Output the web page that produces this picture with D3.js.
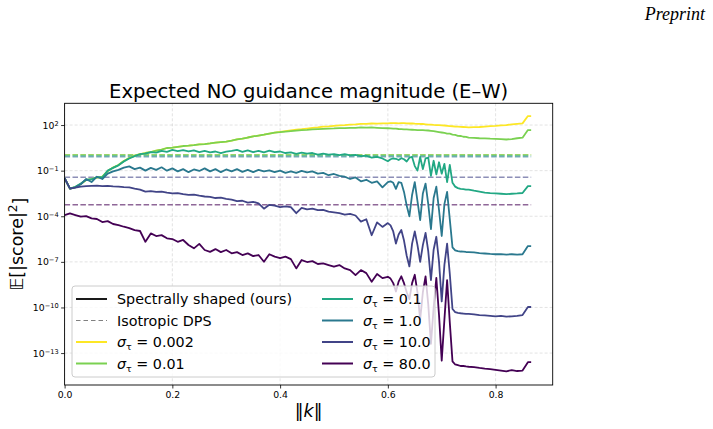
<!DOCTYPE html>
<html>
<head>
<meta charset="utf-8">
<script src="https://cdn.jsdelivr.net/npm/d3@7"></script>
<style>
  body { margin: 0; background: #fff; }
  text { font-family: "DejaVu Sans", sans-serif; fill: #000; }
</style>
</head>
<body>
<div id="viz"></div>
<script>

// ||k|| sample positions (finer in the oscillating band)
const kValues = [
  0, 0.01, 0.02, 0.03, 0.04, 0.05, 0.06, 0.07, 0.08, 0.09,
  0.10, 0.11, 0.12, 0.13, 0.14, 0.15, 0.16, 0.17, 0.18, 0.19,
  0.20, 0.21, 0.22, 0.23, 0.24, 0.25, 0.26, 0.27, 0.28, 0.29,
  0.30, 0.31, 0.32, 0.33, 0.34, 0.35, 0.36, 0.37, 0.38, 0.39,
  0.40, 0.41, 0.42, 0.43, 0.44, 0.45, 0.46, 0.47, 0.48, 0.49,
  0.50, 0.51, 0.52, 0.53, 0.54, 0.55, 0.56, 0.57, 0.58, 0.59,
  0.60,
  0.605, 0.61, 0.615, 0.62, 0.625, 0.63, 0.635, 0.64, 0.645, 0.65,
  0.655, 0.66, 0.665, 0.67, 0.675, 0.68, 0.685, 0.69, 0.695, 0.70,
  0.705, 0.71, 0.715, 0.72, 0.725, 0.73, 0.735, 0.74, 0.745, 0.75,
  0.76, 0.77, 0.78, 0.79, 0.80, 0.81, 0.82, 0.83, 0.84, 0.85, 0.86, 0.866
];

// log10 of E[|score|^2], one list per sigma_tau
const logSigma0002 = [
  -1.49, -2.18, -2.08, -1.88, -1.62, -1.55, -1.45, -1.39, -1.03, -0.80,
  -0.63, -0.37, -0.17, -0.01, 0.09, 0.16, 0.22, 0.32, 0.39, 0.49,
  0.52, 0.57, 0.62, 0.64, 0.68, 0.73, 0.75, 0.79, 0.84, 0.88,
  0.91, 0.97, 1.05, 1.10, 1.18, 1.25, 1.31, 1.37, 1.44, 1.50,
  1.55, 1.60, 1.65, 1.70, 1.73, 1.77, 1.81, 1.84, 1.89, 1.91,
  1.95, 1.98, 2.00, 2.03, 2.04, 2.07, 2.08, 2.10, 2.09, 2.11,
  2.11,
  2.12, 2.13, 2.12, 2.11, 2.13, 2.12, 2.11, 2.10, 2.11, 2.09,
  2.08, 2.07, 2.07, 2.05, 2.03, 2.03, 2.01, 2.00, 1.99, 1.98,
  1.97, 1.95, 1.93, 1.92, 1.90, 1.89, 1.88, 1.87, 1.86, 1.85,
  1.86, 1.87, 1.90, 1.93, 1.95, 1.98, 2.00, 2.05, 2.08, 2.11, 2.59, 2.59
];
const logSigma001 = [
  -1.49, -2.18, -2.08, -1.88, -1.62, -1.55, -1.45, -1.39, -1.03, -0.80,
  -0.63, -0.37, -0.17, -0.01, 0.09, 0.16, 0.22, 0.32, 0.39, 0.49,
  0.52, 0.57, 0.62, 0.64, 0.68, 0.73, 0.75, 0.79, 0.84, 0.88,
  0.91, 0.97, 1.05, 1.10, 1.18, 1.25, 1.31, 1.37, 1.44, 1.50,
  1.53, 1.57, 1.60, 1.63, 1.66, 1.68, 1.71, 1.73, 1.75, 1.77,
  1.78, 1.80, 1.80, 1.82, 1.82, 1.84, 1.83, 1.84, 1.82, 1.80,
  1.79,
  1.78, 1.77, 1.76, 1.74, 1.73, 1.72, 1.71, 1.70, 1.69, 1.68,
  1.67, 1.67, 1.66, 1.65, 1.64, 1.62, 1.60, 1.57, 1.54, 1.51,
  1.48, 1.44, 1.43, 1.37, 1.35, 1.29, 1.28, 1.23, 1.22, 1.17,
  1.15, 1.13, 1.12, 1.10, 1.09, 1.07, 1.05, 1.08, 1.13, 1.17, 1.67, 1.67
];
const logSigma01 = [
  -1.49, -2.18, -2.06, -1.85, -1.60, -1.58, -1.42, -1.45, -1.00, -0.82,
  -0.65, -0.40, -0.20, -0.05, 0.08, 0.12, 0.22, 0.18, 0.30, 0.24,
  0.36, 0.28, 0.35, 0.26, 0.33, 0.22, 0.30, 0.20, 0.26, 0.15,
  0.25, 0.30, 0.36, 0.24, 0.33, 0.22, 0.30, 0.20, 0.31, 0.22,
  0.26, 0.16, 0.20, 0.10, 0.18, 0.12, 0.16, 0.06, 0.12, 0.05,
  0.09, 0.02, 0.08, 0.00, 0.04, -0.04, -0.02, -0.14, -0.10, -0.20,
  -0.38,
  -0.25, -0.20, -0.22, -0.30, -0.18, -0.25, -0.40, -0.15, -0.10, -0.70,
  -1.00, -0.10, -0.90, -0.20, -0.15, -1.35, -0.35, -1.25, -0.45, -1.20,
  -0.55, -1.75, -0.62, -1.80, -2.05, -2.15, -2.20, -2.22, -2.25, -2.25,
  -2.32, -2.38, -2.45, -2.48, -2.50, -2.52, -2.55, -2.52, -2.50, -2.47, -2.02, -2.02
];
const logSigma1 = [
  -1.49, -2.18, -2.10, -1.90, -1.55, -1.75, -1.40, -1.55, -1.20, -1.05,
  -0.95, -0.80, -0.72, -0.90, -0.80, -1.00, -0.82, -0.95, -0.78, -1.00,
  -0.85, -1.05, -0.90, -1.10, -0.92, -1.02, -0.85, -1.05, -0.90, -1.10,
  -0.92, -1.05, -0.90, -1.08, -0.95, -1.10, -0.95, -1.05, -0.98, -1.10,
  -1.00, -1.15, -1.05, -1.15, -1.02, -1.12, -1.05, -1.20, -1.15, -1.30,
  -1.22, -1.35, -1.40, -1.55, -1.45, -1.70, -1.60, -1.80, -1.70, -2.10,
  -1.75,
  -1.70, -1.80, -2.20, -1.75, -1.80, -2.40, -3.30, -4.00, -2.60, -1.75,
  -3.00, -4.25, -2.50, -1.85, -3.20, -4.85, -2.80, -2.05, -3.60, -5.30,
  -3.20, -2.40, -4.20, -6.05, -6.25, -6.30, -6.32, -6.33, -6.35, -6.36,
  -6.38, -6.42, -6.45, -6.48, -6.50, -6.49, -6.52, -6.50, -6.53, -6.50, -5.96, -5.96
];
const logSigma10 = [
  -1.49, -2.18, -2.12, -2.05, -2.02, -2.00, -1.98, -2.02, -2.00, -2.03,
  -2.05, -2.08, -2.10, -2.18, -2.25, -2.38, -2.35, -2.40, -2.38, -2.45,
  -2.50, -2.48, -2.55, -2.60, -2.58, -2.65, -2.70, -2.72, -2.80, -2.78,
  -2.85, -2.90, -3.00, -2.98, -3.10, -3.05, -3.15, -3.50, -3.25, -3.30,
  -3.40, -3.35, -3.40, -3.80, -3.45, -3.55, -3.50, -3.60, -3.58, -3.70,
  -3.75, -3.80, -3.90, -3.85, -3.95, -4.35, -4.20, -5.25, -4.40, -4.70,
  -4.45,
  -4.60, -5.00, -5.80, -5.20, -4.90, -5.60, -6.60, -7.30, -5.80, -5.00,
  -5.90, -7.00, -5.90, -5.10, -6.30, -8.20, -6.20, -5.35, -7.00, -9.60,
  -7.20, -5.80, -7.80, -10.10, -10.30, -10.35, -10.38, -10.40, -10.42, -10.42,
  -10.45, -10.50, -10.52, -10.55, -10.58, -10.55, -10.60, -10.58, -10.55, -10.50, -9.97, -9.97
];
const logSigma80 = [
  -3.92, -3.81, -3.92, -4.03, -3.99, -4.14, -4.18, -4.38, -4.32, -4.51,
  -4.58, -4.69, -4.78, -4.91, -4.97, -5.68, -5.13, -5.30, -5.24, -5.45,
  -5.50, -5.68, -5.56, -5.89, -6.11, -5.82, -6.22, -6.34, -6.16, -6.36,
  -6.22, -6.44, -6.36, -6.55, -6.44, -6.62, -6.55, -6.99, -6.50, -6.66,
  -6.75, -6.66, -6.82, -7.43, -6.88, -7.01, -6.95, -7.14, -7.10, -7.21,
  -7.32, -7.21, -7.43, -7.54, -7.87, -7.54, -7.74, -8.31, -7.80, -8.07,
  -7.98,
  -8.10, -8.40, -8.95, -8.30, -7.95, -8.40, -9.00, -9.45, -8.40, -7.85,
  -9.00, -10.80, -9.00, -7.95, -9.80, -12.40, -10.00, -8.05, -10.50, -13.50,
  -10.80, -8.20, -11.00, -13.55, -13.75, -13.80, -13.85, -13.85, -13.88, -13.90,
  -13.92, -13.98, -14.02, -14.05, -14.10, -14.15, -14.20, -14.12, -14.18, -14.15, -13.60, -13.60
];

// isotropic DPS level per sigma (log10), flat in k
const isotropicLog = [0.05, 0.04, 0.0, -0.08, -1.44, -3.24];

const sigmaLabels = ["0.002", "0.01", "0.1", "1.0", "10.0", "80.0"];
const sigmaColors = ["#fde725", "#7ad151", "#22a884", "#2a788e", "#414487", "#440154"];
const xTicks = [0, 0.2, 0.4, 0.6, 0.8];
const yTickExponents = [-13, -10, -7, -4, -1, 2];

const seriesLogs = [logSigma0002, logSigma001, logSigma01, logSigma1, logSigma10, logSigma80];

//dimensions for the chart
let dimensions = {
  width: 713,
  height: 429,
  margins: { top: 103.3, right: 160.3, bottom: 44, left: 64.6 }
};
dimensions.boundedWidth = dimensions.width - dimensions.margins.left - dimensions.margins.right;
dimensions.boundedHeight = dimensions.height - dimensions.margins.top - dimensions.margins.bottom;

const svg = d3.select('#viz').append('svg')
  .attr('width', dimensions.width)
  .attr('height', dimensions.height);

//scales
const xScale = d3.scaleLinear()
  .domain([0, 0.906])
  .range([dimensions.margins.left, dimensions.margins.left + dimensions.boundedWidth]);

const yScale = d3.scaleLog()
  .domain([Math.pow(10, -15.1), Math.pow(10, 3.43)])
  .range([dimensions.margins.top + dimensions.boundedHeight, dimensions.margins.top]);

const yTickValues = yTickExponents.map(e => Math.pow(10, e));

// grid
const grid = svg.append('g');
grid.selectAll('.vgrid').data(xTicks).join('line')
  .attr('x1', d => xScale(d)).attr('x2', d => xScale(d))
  .attr('y1', yScale.range()[1]).attr('y2', yScale.range()[0])
  .attr('stroke', '#b0b0b0').attr('stroke-opacity', 0.45)
  .attr('stroke-width', 0.8).attr('stroke-dasharray', '3,2');
grid.selectAll('.hgrid').data(yTickValues).join('line')
  .attr('x1', xScale.range()[0]).attr('x2', xScale.range()[1])
  .attr('y1', d => yScale(d)).attr('y2', d => yScale(d))
  .attr('stroke', '#b0b0b0').attr('stroke-opacity', 0.45)
  .attr('stroke-width', 0.8).attr('stroke-dasharray', '3,2');

// clip to the axes box
svg.append('defs').append('clipPath')
  .attr('id', 'clip')
  .append('rect')
    .attr('x', xScale.range()[0])
    .attr('y', yScale.range()[1])
    .attr('width', dimensions.boundedWidth)
    .attr('height', dimensions.boundedHeight);

const plot = svg.append('g').attr('clip-path', 'url(#clip)');

// isotropic DPS reference lines (dashed, flat)
plot.selectAll('.iso').data(isotropicLog).join('line')
  .attr('x1', xScale(kValues[0]))
  .attr('x2', xScale(kValues[kValues.length - 1]))
  .attr('y1', d => yScale(Math.pow(10, d)))
  .attr('y2', d => yScale(Math.pow(10, d)))
  .attr('stroke', (d, i) => sigmaColors[i])
  .attr('stroke-opacity', 0.6)
  .attr('stroke-width', 1.5)
  .attr('stroke-dasharray', '5.5,2.4');

// spectrally shaped curves
const series = d3.line()
  .x((d, i) => xScale(kValues[i]))
  .y(d => yScale(Math.pow(10, d)));

plot.selectAll('.curve').data(seriesLogs).join('path')
  .attr('d', series)
  .attr('fill', 'none')
  .attr('stroke', (d, i) => sigmaColors[i])
  .attr('stroke-width', 1.8)
  .attr('stroke-linejoin', 'round');

// axes
const xAxis = svg.append('g')
  .attr('transform', `translate(0,${yScale.range()[0]})`)
  .call(d3.axisBottom(xScale).tickValues(xTicks).tickSize(3.5).tickPadding(3)
    .tickFormat(d3.format('.1f')));
xAxis.select('.domain').remove();
xAxis.selectAll('text').attr('font-size', '9.3px').attr('font-family', null);
xAxis.selectAll('line').attr('stroke-width', 0.8);

const yAxis = svg.append('g')
  .attr('transform', `translate(${xScale.range()[0]},0)`)
  .call(d3.axisLeft(yScale).tickValues(yTickValues).tickSize(3.5).tickFormat(() => ''));
yAxis.select('.domain').remove();
yAxis.selectAll('line').attr('stroke-width', 0.8);

// log tick labels as 10^n
yAxis.selectAll('.tick').each(function(d, i) {
  const e = yTickExponents[i];
  const t = d3.select(this).append('text')
    .attr('x', -6).attr('dy', '0.32em')
    .attr('text-anchor', 'end')
    .attr('font-size', '9.3px')
    .attr('fill', '#000');
  t.append('tspan').text('10');
  t.append('tspan').attr('dy', '-0.45em').attr('font-size', '6.6px')
    .text(e < 0 ? '\u2212' + Math.abs(e) : String(e));
});

// frame
svg.append('rect')
  .attr('x', xScale.range()[0]).attr('y', yScale.range()[1])
  .attr('width', dimensions.boundedWidth).attr('height', dimensions.boundedHeight)
  .attr('fill', 'none').attr('stroke', '#000').attr('stroke-width', 0.9);

// titles
const cx = (xScale.range()[0] + xScale.range()[1]) / 2;
svg.append('text')
  .attr('x', cx).attr('y', 98)
  .attr('text-anchor', 'middle')
  .attr('font-size', '19.6px')
  .text('Expected NO guidance magnitude (E\u2013W)');

const xLabel = svg.append('text')
  .attr('x', cx).attr('y', 417)
  .attr('text-anchor', 'middle')
  .attr('font-size', '17.5px');
xLabel.append('tspan').text('\u2016');
xLabel.append('tspan').attr('font-style', 'italic').text('k');
xLabel.append('tspan').text('\u2016');

const yLabel = svg.append('text')
  .attr('transform', `translate(23,${(yScale.range()[0] + yScale.range()[1]) / 2}) rotate(-90)`)
  .attr('text-anchor', 'middle')
  .attr('font-size', '17.5px');
yLabel.append('tspan').text('\uD835\uDD3C[|score|');
yLabel.append('tspan').attr('dy', '-0.5em').attr('font-size', '12px').text('2');
yLabel.append('tspan').attr('dy', '0.5em').text(']');

svg.append('text')
  .attr('x', 705).attr('y', 20)
  .attr('text-anchor', 'end')
  .style('font-family', '"Liberation Serif", "Times New Roman", serif')
  .style('font-style', 'italic')
  .attr('font-size', '18px')
  .text('Preprint');

// legend
const legend = svg.append('g');
legend.append('rect')
  .attr('x', 72).attr('y', 286).attr('width', 363).attr('height', 91)
  .attr('rx', 3)
  .attr('fill', '#fff').attr('fill-opacity', 0.8)
  .attr('stroke', '#cccccc').attr('stroke-width', 1);

const rowY = [299, 320.5, 342, 363.5];
const legendItems = [
  { col: 0, row: 0, color: '#000', dash: null, width: 1.8, label: 'Spectrally shaped (ours)' },
  { col: 0, row: 1, color: '#808080', dash: '4.5,3', width: 1.2, label: 'Isotropic DPS' }
];
sigmaLabels.forEach((s, i) => {
  const slot = i + 2;
  legendItems.push({ col: Math.floor(slot / 4), row: slot % 4, color: sigmaColors[i], dash: null, width: 2, sigma: s });
});
const colX = [76, 322];

legendItems.forEach(item => {
  const x0 = colX[item.col];
  const y0 = rowY[item.row];
  legend.append('line')
    .attr('x1', x0).attr('x2', x0 + 31)
    .attr('y1', y0).attr('y2', y0)
    .attr('stroke', item.color)
    .attr('stroke-width', item.width)
    .attr('stroke-dasharray', item.dash);
  const t = legend.append('text')
    .attr('x', x0 + 41).attr('y', y0).attr('dy', '0.35em')
    .attr('font-size', '14.3px');
  if (item.label) {
    t.text(item.label);
  } else {
    t.append('tspan').attr('font-style', 'italic').text('\u03C3');
    t.append('tspan').attr('dy', 3).attr('font-size', '9.5px').text('\u03C4');
    t.append('tspan').attr('dy', -3).text(' = ' + item.sigma);
  }
});
</script>
</body>
</html>
